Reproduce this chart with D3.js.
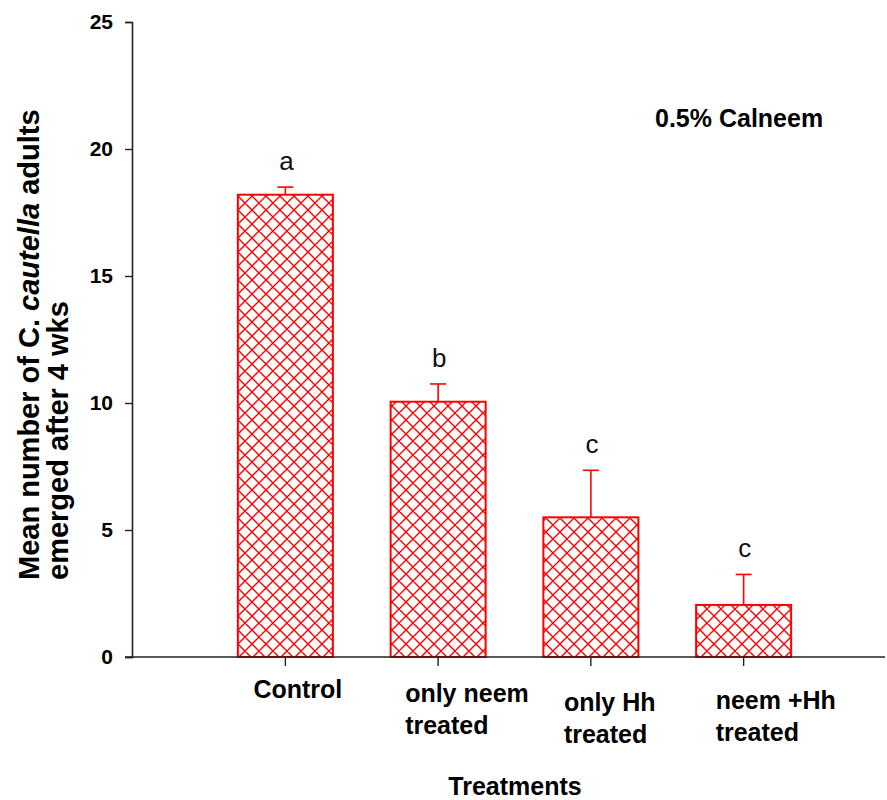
<!DOCTYPE html>
<html>
<head>
<meta charset="utf-8">
<script src="https://cdn.jsdelivr.net/npm/d3@7"></script>
<style>
  html, body { margin: 0; padding: 0; background: #fff; }
  svg { display: block; }
  text { font-family: "Liberation Sans", Arial, sans-serif; }
</style>
</head>
<body>
<script>
// Treatment groups and their mean adult emergence (± SE, upper bar only)
const categories = [["Control"], ["only neem", "treated"], ["only Hh", "treated"], ["neem +Hh", "treated"]];
const categoryKeys = ["Control", "only neem treated", "only Hh treated", "neem +Hh treated"];
const means = [18.2, 10.05, 5.5, 2.05];
const errors = [0.3, 0.7, 1.85, 1.2];
const groupLetters = ["a", "b", "c", "c"];
const yTicks = [0, 5, 10, 15, 20, 25];

const W = 887, H = 800;
const red = "#ff0000";

const svg = d3.select("body").append("svg")
  .attr("width", W).attr("height", H);

// Diagonal cross-hatch fill for the bars
const defs = svg.append("defs");
const pat = defs.append("pattern")
  .attr("id", "hatch")
  .attr("patternUnits", "userSpaceOnUse")
  .attr("width", 14).attr("height", 14);
pat.append("rect").attr("width", 14).attr("height", 14).attr("fill", "#fff");
pat.append("path")
  .attr("d", "M0,0 L14,14 M14,0 L0,14 M-1,13 L1,15 M13,-1 L15,1 M-1,1 L1,-1 M13,15 L15,13")
  .attr("stroke", red).attr("stroke-width", 1.4).attr("fill", "none");
pat.append("rect").attr("x", 6).attr("y", 6).attr("width", 2).attr("height", 2).attr("fill", red);

const y = d3.scaleLinear().domain([0, 25]).range([657, 22]);
const x = d3.scaleBand().domain(categoryKeys)
  .range([209, 820]).paddingInner(0.378).paddingOuter(0.189);

const axisX0 = 132, axisX1 = 885;

// Bars
svg.append("g").selectAll("rect")
  .data(categoryKeys)
  .join("rect")
  .attr("x", d => x(d))
  .attr("y", (d, i) => y(means[i]))
  .attr("width", x.bandwidth())
  .attr("height", (d, i) => y(0) - y(means[i]))
  .attr("fill", "url(#hatch)")
  .attr("stroke", red)
  .attr("stroke-width", 2);

// Upper error bars
const eb = svg.append("g").attr("stroke", red).attr("stroke-width", 1.6);
categoryKeys.forEach((d, i) => {
  const cx = x(d) + x.bandwidth() / 2;
  eb.append("line").attr("x1", cx).attr("x2", cx)
    .attr("y1", y(means[i])).attr("y2", y(means[i] + errors[i]));
  eb.append("line").attr("x1", cx - 8).attr("x2", cx + 8)
    .attr("y1", y(means[i] + errors[i])).attr("y2", y(means[i] + errors[i]));
});

// Significance letters
svg.append("g").selectAll("text")
  .data(categoryKeys)
  .join("text")
  .attr("x", d => x(d) + x.bandwidth() / 2 + 1)
  .attr("y", (d, i) => y(means[i] + errors[i]) - 17)
  .attr("text-anchor", "middle")
  .attr("font-size", 26)
  .attr("fill", "#111")
  .text((d, i) => groupLetters[i]);

// Y axis
const yAxis = svg.append("g")
  .attr("transform", `translate(${axisX0},0)`)
  .call(d3.axisLeft(y).tickValues(yTicks).tickSize(7).tickPadding(12).tickFormat(d3.format("d")));
yAxis.select(".domain").attr("stroke", "#222").attr("stroke-width", 1.6);
yAxis.selectAll(".tick line").attr("stroke", "#222").attr("stroke-width", 1.4);
yAxis.selectAll(".tick text")
  .attr("font-size", 21).attr("font-weight", "bold").attr("fill", "#000")
  .attr("font-family", "'Liberation Sans', Arial, sans-serif");

// X axis
const xAxis = svg.append("g")
  .attr("transform", `translate(0,${y(0)})`)
  .call(d3.axisBottom(x).tickSize(9).tickFormat(""));
xAxis.select(".domain").remove();
xAxis.selectAll(".tick line").attr("stroke", "#222").attr("stroke-width", 1.4);
svg.append("line")
  .attr("x1", axisX0 - 7).attr("x2", axisX1)
  .attr("y1", y(0)).attr("y2", y(0))
  .attr("stroke", "#222").attr("stroke-width", 1.6);

// Category labels (left-aligned, up to two lines)
const labelDx = [-32, -33, -27, -28];
const labelDy = [0, 4, 13, 11];
categoryKeys.forEach((d, i) => {
  const cx = x(d) + x.bandwidth() / 2;
  const t = svg.append("text")
    .attr("x", cx + labelDx[i])
    .attr("y", 698 + labelDy[i])
    .attr("font-size", 25).attr("font-weight", "bold").attr("fill", "#000");
  categories[i].forEach((line, j) => {
    t.append("tspan")
      .attr("x", cx + labelDx[i])
      .attr("dy", j === 0 ? 0 : 32)
      .text(line);
  });
});

// X axis title
svg.append("text")
  .attr("x", 515).attr("y", 795)
  .attr("text-anchor", "middle")
  .attr("font-size", 25).attr("font-weight", "bold")
  .text("Treatments");

// Y axis title (two lines, rotated)
const yt1 = svg.append("text")
  .attr("transform", "translate(39,580) rotate(-90)")
  .attr("font-size", 29).attr("font-weight", "bold");
yt1.append("tspan").text("Mean number of C. ");
yt1.append("tspan").attr("font-style", "italic").text("cautella");
yt1.append("tspan").text(" adults");
svg.append("text")
  .attr("transform", "translate(68,580) rotate(-90)")
  .attr("font-size", 29).attr("font-weight", "bold")
  .text("emerged after 4 wks");

// Annotation
svg.append("text")
  .attr("x", 655).attr("y", 127)
  .attr("font-size", 25).attr("font-weight", "bold")
  .text("0.5% Calneem");
</script>
</body>
</html>
